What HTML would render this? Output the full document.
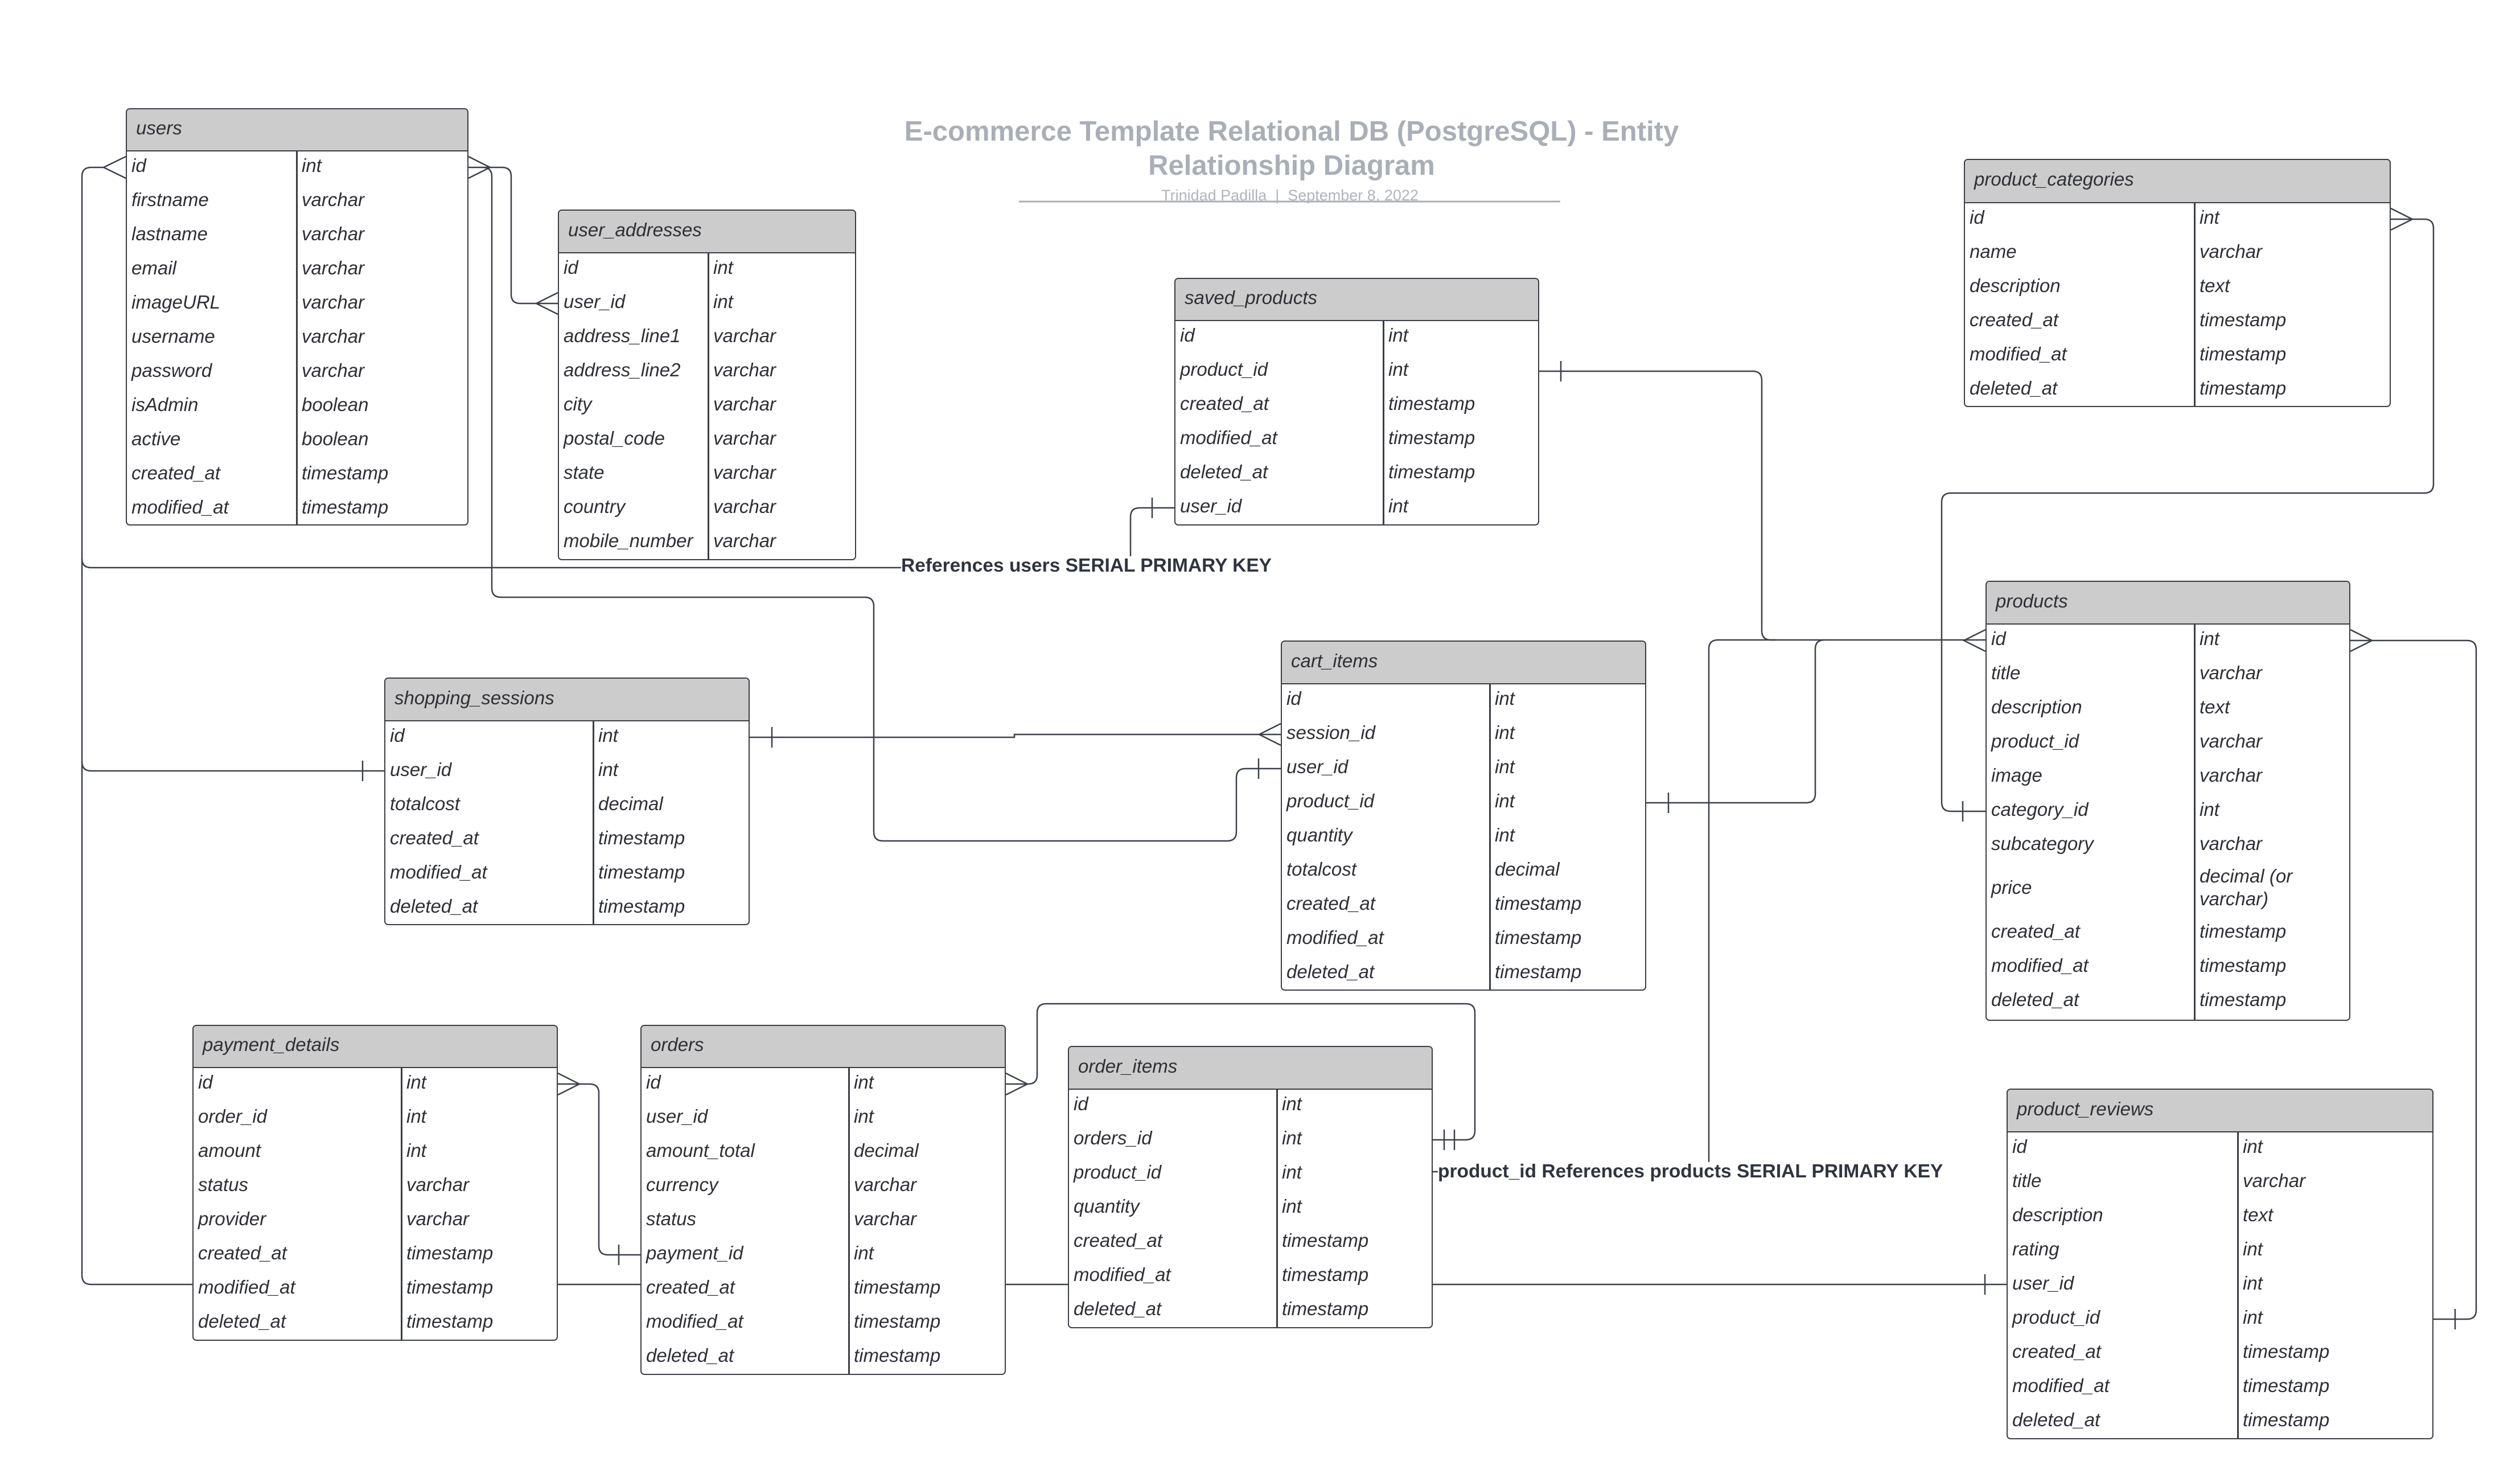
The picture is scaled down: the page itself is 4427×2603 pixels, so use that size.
<!DOCTYPE html>
<html><head><meta charset="utf-8">
<style>
html,body{margin:0;padding:0;background:#fff;}
body{width:4427px;height:2603px;position:relative;overflow:hidden;font-family:"Liberation Sans",sans-serif;}
svg.l{position:absolute;left:0;top:0;}
.t{position:absolute;background:#fff;border:2.5px solid #3a3d44;border-radius:7px;box-sizing:border-box;overflow:hidden;color:#2e3036;font-style:italic;font-size:33px;}
.h{background:#cccccc;border-bottom:2.5px solid #3a3d44;box-sizing:border-box;padding-left:16px;display:flex;align-items:center;padding-bottom:6px;}
.r{position:relative;height:60px;display:flex;align-items:center;}
.r span{transform:translateY(-5px);}
.r .a{position:absolute;left:8px;}
.r .b{position:absolute;}
.d{position:absolute;top:0;bottom:0;width:2.5px;background:#3a3d44;}
.lab{position:absolute;font-weight:bold;font-size:33.5px;color:#2f3440;white-space:nowrap;}
</style></head><body>

<svg class="l" width="4427" height="2603" viewBox="0 0 4427 2603" fill="none" stroke="#3c404a" stroke-width="2.5">
<line x1="1790" y1="354" x2="2741" y2="354" stroke="#a9aeb7" stroke-width="3"/>
<path d="M182,294 H160 Q144,294 144,310 V2240 Q144,2256 160,2256 H338"/>
<path d="M221,275 L182,294 L221,313"/>
<path d="M144,981 Q144,997 160,997 H1583"/>
<path d="M144,1338 Q144,1354 160,1354 H675"/>
<path d="M637,1336 V1372"/>
<path d="M980,2256 H1125 M1767,2256 H1876 M2517,2256 H3525"/>
<path d="M3487,2238 V2274"/>
<path d="M1986,977 V908 Q1986,892 2002,892 H2063"/>
<path d="M2024,874 V910"/>
<path d="M823,275 L861,294 L823,313"/>
<path d="M823,294 H882 Q898,294 898,310 V517 Q898,533 914,533 H980"/>
<path d="M980,514 L942,533 L980,552"/>
<path d="M848,294 Q864,294 864,310 V1033 Q864,1049 880,1049 H1519 Q1535,1049 1535,1065 V1461 Q1535,1477 1551,1477 H2156 Q2172,1477 2172,1461 V1366 Q2172,1350 2188,1350 H2250"/>
<path d="M2211,1332 V1368"/>
<path d="M1317,1295 H1782 V1290 H2250"/>
<path d="M1356,1277 V1313"/>
<path d="M2250,1271 L2212,1290 L2250,1309"/>
<path d="M2704,652 H3079 Q3095,652 3095,668 V1108 Q3095,1124 3111,1124 H3488"/>
<path d="M2742,634 V670"/>
<path d="M3488,1106 L3450,1125 L3488,1144"/>
<path d="M2892,1410 H3173 Q3189,1410 3189,1394 V1140 Q3189,1124 3205,1124"/>
<path d="M2931,1392 V1428"/>
<path d="M3002,2041 V1140 Q3002,1124 3018,1124 H3120"/>
<path d="M2517,2058 H2526"/>
<path d="M4200,366 L4238,385 L4200,404"/>
<path d="M4200,385 H4259 Q4275,385 4275,401 V850 Q4275,866 4259,866 H3427 Q3411,866 3411,882 V1409 Q3411,1425 3427,1425 H3488"/>
<path d="M3448,1407 V1443"/>
<path d="M4129,1106 L4167,1125 L4129,1144"/>
<path d="M4129,1125 H4334 Q4350,1125 4350,1141 V2301 Q4350,2317 4334,2317 H4275"/>
<path d="M4313,2299 V2335"/>
<path d="M1767,1885 L1805,1904 L1767,1923"/>
<path d="M1767,1904 H1806 Q1822,1904 1822,1888 V1779 Q1822,1763 1838,1763 H2575 Q2591,1763 2591,1779 V1986 Q2591,2002 2575,2002 H2517"/>
<path d="M2537,1984 V2020 M2555,1984 V2020"/>
<path d="M980,1885 L1018,1904 L980,1923"/>
<path d="M980,1904 H1036 Q1052,1904 1052,1920 V2188 Q1052,2204 1068,2204 H1125"/>
<path d="M1087,2186 V2222"/>
<g stroke="none" fill="#a9aeb7" font-family="Liberation Sans, sans-serif" text-anchor="middle">
<text x="2269" y="247" font-size="49" font-weight="bold">E-commerce Template Relational DB (PostgreSQL) - Entity</text>
<text x="2269" y="307" font-size="49" font-weight="bold">Relationship Diagram</text>
<text x="2266" y="352" font-size="27" fill="#b0b5bd" style="white-space:pre" xml:space="preserve">Trinidad Padilla  |  September 8, 2022</text>
</g>
</svg>

<div class="lab" style="left:1583px;top:975px;">References users SERIAL PRIMARY KEY</div>
<div class="lab" style="left:2526px;top:2039px;">product_id References products SERIAL PRIMARY KEY</div>

<div class="t" style="left:221px;top:190px;width:602px;height:733px;">
<div class="h" style="height:74px;">users</div>
<div class="d" style="left:297px;top:74px;"></div>
<div class="r"><span class="a">id</span><span class="b" style="left:307px">int</span></div>
<div class="r"><span class="a">firstname</span><span class="b" style="left:307px">varchar</span></div>
<div class="r"><span class="a">lastname</span><span class="b" style="left:307px">varchar</span></div>
<div class="r"><span class="a">email</span><span class="b" style="left:307px">varchar</span></div>
<div class="r"><span class="a">imageURL</span><span class="b" style="left:307px">varchar</span></div>
<div class="r"><span class="a">username</span><span class="b" style="left:307px">varchar</span></div>
<div class="r"><span class="a">password</span><span class="b" style="left:307px">varchar</span></div>
<div class="r"><span class="a">isAdmin</span><span class="b" style="left:307px">boolean</span></div>
<div class="r"><span class="a">active</span><span class="b" style="left:307px">boolean</span></div>
<div class="r"><span class="a">created_at</span><span class="b" style="left:307px">timestamp</span></div>
<div class="r"><span class="a">modified_at</span><span class="b" style="left:307px">timestamp</span></div>
</div>

<div class="t" style="left:980px;top:368px;width:524px;height:616px;">
<div class="h" style="height:75px;">user_addresses</div>
<div class="d" style="left:261px;top:75px;"></div>
<div class="r"><span class="a">id</span><span class="b" style="left:271px">int</span></div>
<div class="r"><span class="a">user_id</span><span class="b" style="left:271px">int</span></div>
<div class="r"><span class="a">address_line1</span><span class="b" style="left:271px">varchar</span></div>
<div class="r"><span class="a">address_line2</span><span class="b" style="left:271px">varchar</span></div>
<div class="r"><span class="a">city</span><span class="b" style="left:271px">varchar</span></div>
<div class="r"><span class="a">postal_code</span><span class="b" style="left:271px">varchar</span></div>
<div class="r"><span class="a">state</span><span class="b" style="left:271px">varchar</span></div>
<div class="r"><span class="a">country</span><span class="b" style="left:271px">varchar</span></div>
<div class="r"><span class="a">mobile_number</span><span class="b" style="left:271px">varchar</span></div>
</div>

<div class="t" style="left:2063px;top:488px;width:641px;height:435px;">
<div class="h" style="height:74px;">saved_products</div>
<div class="d" style="left:364px;top:74px;"></div>
<div class="r"><span class="a">id</span><span class="b" style="left:374px">int</span></div>
<div class="r"><span class="a">product_id</span><span class="b" style="left:374px">int</span></div>
<div class="r"><span class="a">created_at</span><span class="b" style="left:374px">timestamp</span></div>
<div class="r"><span class="a">modified_at</span><span class="b" style="left:374px">timestamp</span></div>
<div class="r"><span class="a">deleted_at</span><span class="b" style="left:374px">timestamp</span></div>
<div class="r"><span class="a">user_id</span><span class="b" style="left:374px">int</span></div>
</div>

<div class="t" style="left:3450px;top:279px;width:750px;height:436px;">
<div class="h" style="height:76px;">product_categories</div>
<div class="d" style="left:402px;top:76px;"></div>
<div class="r"><span class="a">id</span><span class="b" style="left:412px">int</span></div>
<div class="r"><span class="a">name</span><span class="b" style="left:412px">varchar</span></div>
<div class="r"><span class="a">description</span><span class="b" style="left:412px">text</span></div>
<div class="r"><span class="a">created_at</span><span class="b" style="left:412px">timestamp</span></div>
<div class="r"><span class="a">modified_at</span><span class="b" style="left:412px">timestamp</span></div>
<div class="r"><span class="a">deleted_at</span><span class="b" style="left:412px">timestamp</span></div>
</div>

<div class="t" style="left:3488px;top:1020px;width:641px;height:773px;">
<div class="h" style="height:75px;">products</div>
<div class="d" style="left:364px;top:75px;"></div>
<div class="r"><span class="a">id</span><span class="b" style="left:374px">int</span></div>
<div class="r"><span class="a">title</span><span class="b" style="left:374px">varchar</span></div>
<div class="r"><span class="a">description</span><span class="b" style="left:374px">text</span></div>
<div class="r"><span class="a">product_id</span><span class="b" style="left:374px">varchar</span></div>
<div class="r"><span class="a">image</span><span class="b" style="left:374px">varchar</span></div>
<div class="r"><span class="a">category_id</span><span class="b" style="left:374px">int</span></div>
<div class="r"><span class="a">subcategory</span><span class="b" style="left:374px">varchar</span></div>
<div class="r" style="height:94px;"><span class="a">price</span><span class="b" style="left:374px;line-height:40px;">decimal (or<br>varchar)</span></div>
<div class="r"><span class="a">created_at</span><span class="b" style="left:374px">timestamp</span></div>
<div class="r"><span class="a">modified_at</span><span class="b" style="left:374px">timestamp</span></div>
<div class="r"><span class="a">deleted_at</span><span class="b" style="left:374px">timestamp</span></div>
</div>

<div class="t" style="left:675px;top:1190px;width:642px;height:435px;">
<div class="h" style="height:75px;">shopping_sessions</div>
<div class="d" style="left:364px;top:75px;"></div>
<div class="r"><span class="a">id</span><span class="b" style="left:374px">int</span></div>
<div class="r"><span class="a">user_id</span><span class="b" style="left:374px">int</span></div>
<div class="r"><span class="a">totalcost</span><span class="b" style="left:374px">decimal</span></div>
<div class="r"><span class="a">created_at</span><span class="b" style="left:374px">timestamp</span></div>
<div class="r"><span class="a">modified_at</span><span class="b" style="left:374px">timestamp</span></div>
<div class="r"><span class="a">deleted_at</span><span class="b" style="left:374px">timestamp</span></div>
</div>

<div class="t" style="left:2250px;top:1125px;width:642px;height:615px;">
<div class="h" style="height:75px;">cart_items</div>
<div class="d" style="left:364px;top:75px;"></div>
<div class="r"><span class="a">id</span><span class="b" style="left:374px">int</span></div>
<div class="r"><span class="a">session_id</span><span class="b" style="left:374px">int</span></div>
<div class="r"><span class="a">user_id</span><span class="b" style="left:374px">int</span></div>
<div class="r"><span class="a">product_id</span><span class="b" style="left:374px">int</span></div>
<div class="r"><span class="a">quantity</span><span class="b" style="left:374px">int</span></div>
<div class="r"><span class="a">totalcost</span><span class="b" style="left:374px">decimal</span></div>
<div class="r"><span class="a">created_at</span><span class="b" style="left:374px">timestamp</span></div>
<div class="r"><span class="a">modified_at</span><span class="b" style="left:374px">timestamp</span></div>
<div class="r"><span class="a">deleted_at</span><span class="b" style="left:374px">timestamp</span></div>
</div>

<div class="t" style="left:338px;top:1800px;width:642px;height:555px;">
<div class="h" style="height:74px;">payment_details</div>
<div class="d" style="left:364px;top:74px;"></div>
<div class="r"><span class="a">id</span><span class="b" style="left:374px">int</span></div>
<div class="r"><span class="a">order_id</span><span class="b" style="left:374px">int</span></div>
<div class="r"><span class="a">amount</span><span class="b" style="left:374px">int</span></div>
<div class="r"><span class="a">status</span><span class="b" style="left:374px">varchar</span></div>
<div class="r"><span class="a">provider</span><span class="b" style="left:374px">varchar</span></div>
<div class="r"><span class="a">created_at</span><span class="b" style="left:374px">timestamp</span></div>
<div class="r"><span class="a">modified_at</span><span class="b" style="left:374px">timestamp</span></div>
<div class="r"><span class="a">deleted_at</span><span class="b" style="left:374px">timestamp</span></div>
</div>

<div class="t" style="left:1125px;top:1800px;width:642px;height:615px;">
<div class="h" style="height:74px;">orders</div>
<div class="d" style="left:363px;top:74px;"></div>
<div class="r"><span class="a">id</span><span class="b" style="left:373px">int</span></div>
<div class="r"><span class="a">user_id</span><span class="b" style="left:373px">int</span></div>
<div class="r"><span class="a">amount_total</span><span class="b" style="left:373px">decimal</span></div>
<div class="r"><span class="a">currency</span><span class="b" style="left:373px">varchar</span></div>
<div class="r"><span class="a">status</span><span class="b" style="left:373px">varchar</span></div>
<div class="r"><span class="a">payment_id</span><span class="b" style="left:373px">int</span></div>
<div class="r"><span class="a">created_at</span><span class="b" style="left:373px">timestamp</span></div>
<div class="r"><span class="a">modified_at</span><span class="b" style="left:373px">timestamp</span></div>
<div class="r"><span class="a">deleted_at</span><span class="b" style="left:373px">timestamp</span></div>
</div>

<div class="t" style="left:1876px;top:1837px;width:641px;height:496px;">
<div class="h" style="height:75px;">order_items</div>
<div class="d" style="left:364px;top:75px;"></div>
<div class="r"><span class="a">id</span><span class="b" style="left:374px">int</span></div>
<div class="r"><span class="a">orders_id</span><span class="b" style="left:374px">int</span></div>
<div class="r"><span class="a">product_id</span><span class="b" style="left:374px">int</span></div>
<div class="r"><span class="a">quantity</span><span class="b" style="left:374px">int</span></div>
<div class="r"><span class="a">created_at</span><span class="b" style="left:374px">timestamp</span></div>
<div class="r"><span class="a">modified_at</span><span class="b" style="left:374px">timestamp</span></div>
<div class="r"><span class="a">deleted_at</span><span class="b" style="left:374px">timestamp</span></div>
</div>

<div class="t" style="left:3525px;top:1912px;width:750px;height:616px;">
<div class="h" style="height:75px;">product_reviews</div>
<div class="d" style="left:403px;top:75px;"></div>
<div class="r"><span class="a">id</span><span class="b" style="left:413px">int</span></div>
<div class="r"><span class="a">title</span><span class="b" style="left:413px">varchar</span></div>
<div class="r"><span class="a">description</span><span class="b" style="left:413px">text</span></div>
<div class="r"><span class="a">rating</span><span class="b" style="left:413px">int</span></div>
<div class="r"><span class="a">user_id</span><span class="b" style="left:413px">int</span></div>
<div class="r"><span class="a">product_id</span><span class="b" style="left:413px">int</span></div>
<div class="r"><span class="a">created_at</span><span class="b" style="left:413px">timestamp</span></div>
<div class="r"><span class="a">modified_at</span><span class="b" style="left:413px">timestamp</span></div>
<div class="r"><span class="a">deleted_at</span><span class="b" style="left:413px">timestamp</span></div>
</div>

</body></html>
